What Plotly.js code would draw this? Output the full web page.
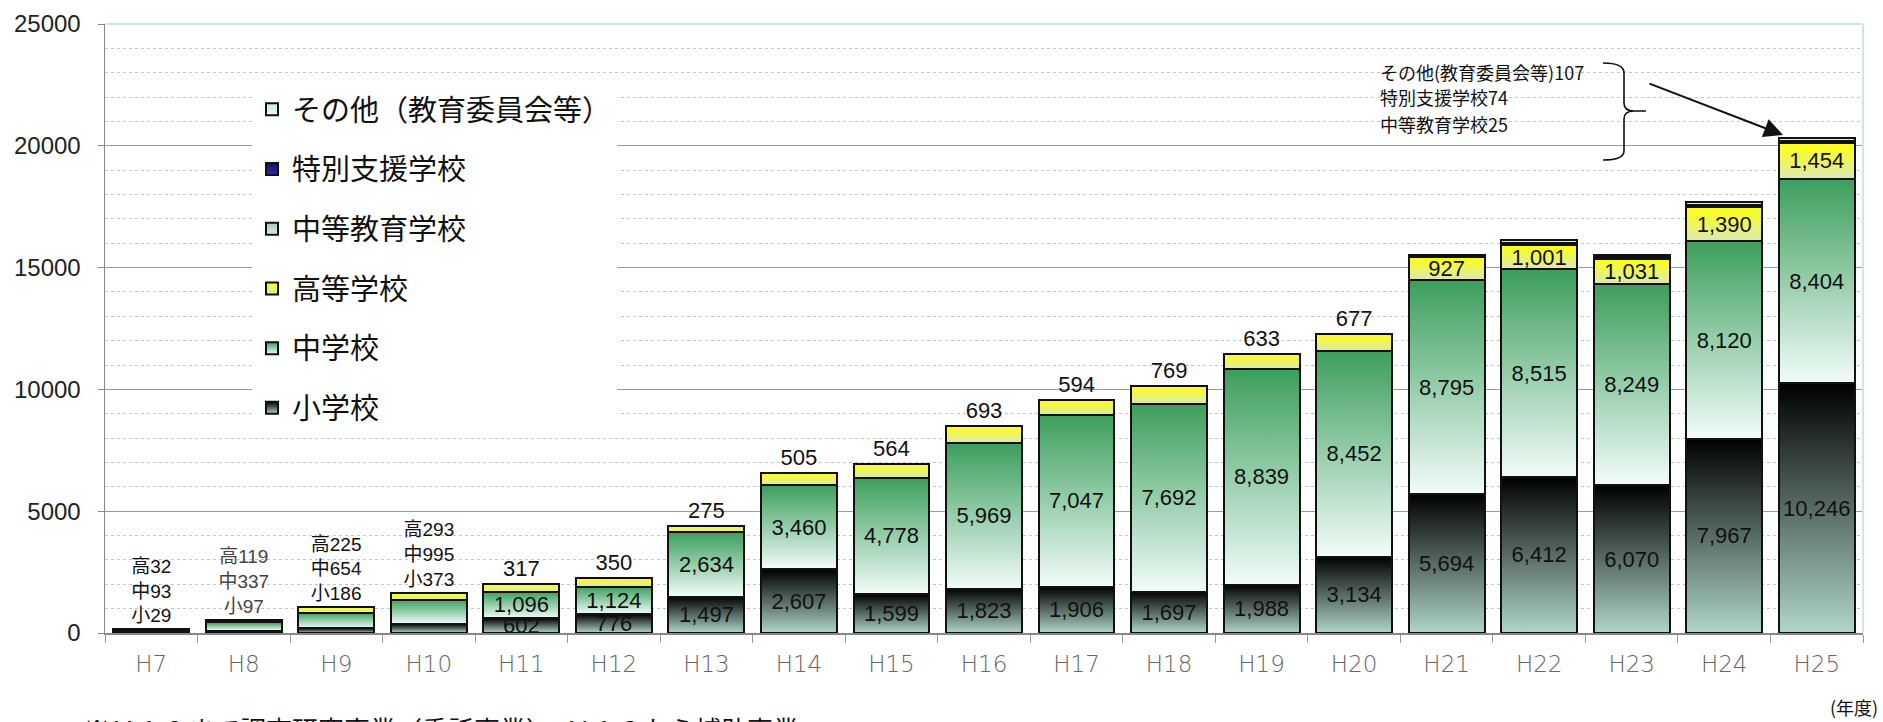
<!DOCTYPE html>
<html>
<head>
<meta charset="utf-8">
<script src="https://cdn.plot.ly/plotly-3.0.1.min.js"></script>
<style>
html,body{margin:0;padding:0;background:#fff;}
#chart{width:1883px;height:722px;}
</style>
</head>
<body>
<div id="chart"></div>
<script>
// ---- data ----
const years = ['H7','H8','H9','H10','H11','H12','H13','H14','H15','H16','H17','H18','H19','H20','H21','H22','H23','H24','H25'];
const elementary = [29,97,186,373,602,776,1497,2607,1599,1823,1906,1697,1988,3134,5694,6412,6070,7967,10246];
const juniorHigh = [93,337,654,995,1096,1124,2634,3460,4778,5969,7047,7692,8839,8452,8795,8515,8249,8120,8404];
const highSchool = [32,119,225,293,317,350,275,505,564,693,594,769,633,677,927,1001,1031,1390,1454];
const secondary  = [null,null,null,null,null,null,null,null,null,null,null,null,null,null,20,25,25,25,25];
const special    = [null,null,null,null,null,null,null,null,null,null,null,null,null,null,40,60,55,70,74];
const others     = [null,null,null,null,null,null,null,null,null,null,null,null,null,null,60,110,100,110,107];
const seriesNames = ['小学校','中学校','高等学校','中等教育学校','特別支援学校','その他（教育委員会等）'];
const earlyCount = 4;     // H7-H10: values written above the bar
const insideFrom = 14;    // H21 onwards: high-school value inside bar

// ---- geometry helpers (plot area in px) ----
const W = 1883, H = 722, ML = 105, MR = 20, MT = 24, MB = 89;
const PW = W - ML - MR, PH = H - MT - MB;
const fx = px => (px - ML) / PW;
const fy = py => (H - MB - py) / PH;

const fmt = v => v.toLocaleString('en-US');
const labelFont = {family: 'Liberation Sans, Arial, sans-serif', size: 22, color: '#111'};

const lowText = arr => arr.map((v, i) => i < earlyCount ? '' : fmt(v));

const highText = highSchool.map((v, i) => i < earlyCount
  ? '高' + v + '<br>中' + juniorHigh[i] + '<br>小' + elementary[i]
  : fmt(v));
const highPos = highSchool.map((v, i) => i < insideFrom ? 'outside' : 'inside');
const highSize = highSchool.map((v, i) => i < earlyCount ? 19 : 22);
const highColor = highSchool.map((v, i) => i === 1 ? '#444' : '#111');

const solid = ['#202020', '#4aa86a', '#ecec30', '#b8d0c8', '#1a1a80', '#d8f0f0'];

function barTrace(y, idx, extra) {
  return Object.assign({
    type: 'bar', x: years, y: y, name: seriesNames[idx],
    legendgroup: 'g' + idx, legendrank: 6 - idx,
    marker: {color: solid[idx], line: {color: '#111', width: 2}},
    textangle: 0, constraintext: 'none', cliponaxis: true,
    hoverinfo: 'skip'
  }, extra || {});
}

const traces = [
  barTrace(elementary, 0, {text: lowText(elementary), textposition: 'inside', insidetextanchor: 'middle', textfont: labelFont}),
  barTrace(juniorHigh, 1, {text: lowText(juniorHigh), textposition: 'inside', insidetextanchor: 'middle', textfont: labelFont}),
  barTrace(highSchool, 2, {text: highText, textposition: highPos, insidetextanchor: 'middle',
    textfont: {family: 'Liberation Sans, Noto Sans CJK JP, sans-serif', size: highSize, color: highColor},
    outsidetextfont: {family: 'Liberation Sans, Noto Sans CJK JP, sans-serif', size: highSize, color: highColor},
    insidetextfont: {family: 'Liberation Sans, sans-serif', size: 22, color: '#111'}}),
  barTrace(secondary, 3, {textposition: 'none'}),
  barTrace(special, 4, {textposition: 'none'}),
  barTrace(others, 5, {textposition: 'none'})
];

// brace path (paper coordinates)
const P = (x, y) => fx(x).toFixed(5) + ',' + fy(y).toFixed(5);
const bracePath = 'M' + P(1603,63) + ' Q' + P(1624,63) + ' ' + P(1624,73) +
  ' L' + P(1624,103) + ' Q' + P(1624,111) + ' ' + P(1634,111) + ' L' + P(1646,111) +
  ' M' + P(1634,111) + ' Q' + P(1624,111) + ' ' + P(1624,119) +
  ' L' + P(1624,151) + ' Q' + P(1624,160) + ' ' + P(1603,160);

const jp = 'Noto Sans CJK JP, sans-serif';

const layout = {
  width: W, height: H,
  margin: {l: ML, r: MR, t: MT, b: MB, pad: 0},
  paper_bgcolor: '#fff', plot_bgcolor: '#fff',
  barmode: 'stack', bargap: 0.18,
  showlegend: true,
  legend: {
    x: fx(252), y: fy(84), xanchor: 'left', yanchor: 'top',
    traceorder: 'grouped', tracegroupgap: 19,
    bgcolor: '#fff', borderwidth: 0,
    font: {family: jp, size: 29, color: '#111'}
  },
  xaxis: {
    type: 'category', showline: true, linecolor: '#888', linewidth: 1.5,
    ticks: 'outside', tickson: 'boundaries', ticklen: 8, tickcolor: '#999', tickwidth: 1,
    showgrid: false, tickfont: {family: 'DejaVu Sans, sans-serif', size: 23, color: '#666', weight: 200},
    ticklabelstandoff: 10
  },
  yaxis: {
    range: [0, 25000], dtick: 5000, tickformat: 'd',
    showline: true, linecolor: '#888', linewidth: 1.5,
    ticks: 'outside', ticklen: 6, tickcolor: '#888',
    gridcolor: '#9a9a9a', gridwidth: 1, zeroline: false,
    tickfont: {family: 'Liberation Sans, Arial, sans-serif', size: 24, color: '#222'},
    ticklabelstandoff: 12,
    minor: {dtick: 1000, showgrid: true, gridcolor: '#c4c4c4', griddash: 'dot', gridwidth: 1, ticks: ''}
  },
  shapes: [
    {type: 'line', xref: 'paper', yref: 'paper', x0: 0, x1: 1, y0: 1, y1: 1, line: {color: '#cfe8e3', width: 2}},
    {type: 'line', xref: 'paper', yref: 'paper', x0: 1, x1: 1, y0: 0, y1: 1, line: {color: '#cfe8e3', width: 2}},
    {type: 'path', xref: 'paper', yref: 'paper', path: bracePath, line: {color: '#111', width: 1.6}}
  ],
  annotations: [
    {xref: 'paper', yref: 'paper', x: fx(1378), y: fy(72), xanchor: 'left', yanchor: 'middle', showarrow: false,
     text: 'その他(教育委員会等)107', font: {family: jp, size: 18, color: '#111'}},
    {xref: 'paper', yref: 'paper', x: fx(1378), y: fy(97), xanchor: 'left', yanchor: 'middle', showarrow: false,
     text: '特別支援学校74', font: {family: jp, size: 18, color: '#111'}},
    {xref: 'paper', yref: 'paper', x: fx(1378), y: fy(124), xanchor: 'left', yanchor: 'middle', showarrow: false,
     text: '中等教育学校25', font: {family: jp, size: 18, color: '#111'}},
    {xref: 'paper', yref: 'paper', x: fx(1783), y: fy(135), ax: -135, ay: -52, text: '', showarrow: true,
     arrowhead: 2, arrowsize: 1.9, arrowwidth: 2, arrowcolor: '#111', standoff: 0},
    {xref: 'paper', yref: 'paper', x: fx(1880), y: fy(707), xanchor: 'right', yanchor: 'middle', showarrow: false,
     text: '(年度)', font: {family: jp, size: 18, color: '#111'}},
    {xref: 'paper', yref: 'paper', x: fx(82), y: fy(708), xanchor: 'left', yanchor: 'top', showarrow: false,
     text: '※Ｈ１２まで調査研究事業（委託事業）、Ｈ１３から補助事業', font: {family: jp, size: 26, color: '#111'}}
  ]
};

const grads = [
  ['#000000', '#b0d6c8'],
  ['#3c9e5c', '#f2fcfa'],
  ['#ffff10', '#dae9b6'],
  ['#a8c4bc', '#dcece8'],
  ['#101070', '#3030a0'],
  ['#c8e8e8', '#eef8f8']
];

const gd = document.getElementById('chart');
Plotly.newPlot(gd, traces, layout, {staticPlot: true, displayModeBar: false}).then(() => {
  const ns = 'http://www.w3.org/2000/svg';
  const defs = gd.querySelector('svg.main-svg defs');
  grads.forEach((g, i) => {
    const lg = document.createElementNS(ns, 'linearGradient');
    lg.setAttribute('id', 'barGrad' + i);
    lg.setAttribute('x1', '0'); lg.setAttribute('y1', '0');
    lg.setAttribute('x2', '0'); lg.setAttribute('y2', '1');
    [[0, g[0]], [1, g[1]]].forEach(([o, c]) => {
      const s = document.createElementNS(ns, 'stop');
      s.setAttribute('offset', o); s.setAttribute('stop-color', c);
      lg.appendChild(s);
    });
    defs.appendChild(lg);
  });
  gd.querySelectorAll('.barlayer .trace.bars').forEach(g => {
    const idx = g.__data__[0].trace.index;
    g.querySelectorAll('.point path').forEach(p => { p.style.fill = 'url(#barGrad' + idx + ')'; });
  });
  gd.querySelectorAll('.legend .traces').forEach(g => {
    const idx = g.__data__[0].trace.index;
    g.querySelectorAll('.legendpoints path').forEach(p => { p.style.fill = 'url(#barGrad' + idx + ')'; });
  });
});
</script>
</body>
</html>
